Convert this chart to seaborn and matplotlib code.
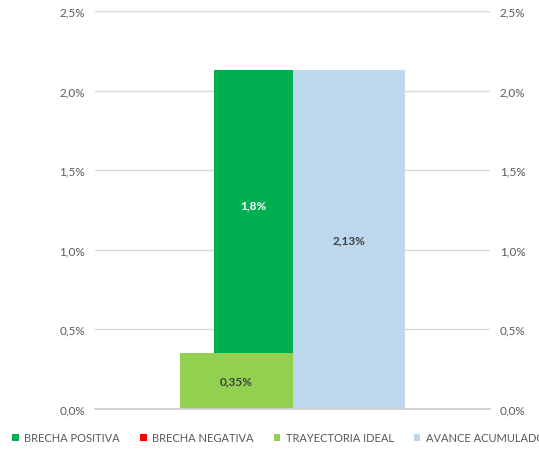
import numpy as np
import matplotlib.pyplot as plt
import seaborn as sns
from matplotlib.patches import Patch
from matplotlib.ticker import FuncFormatter

# ==================== DATA ====================
series = ["BRECHA POSITIVA", "BRECHA NEGATIVA", "TRAYECTORIA IDEAL", "AVANCE ACUMULADO"]
colors = ["#00B050", "#FF0000", "#92D050", "#BDD7EE"]
trayectoria_ideal = 0.35
brecha_positiva = 1.78
avance_acumulado = 2.13
bar_labels = ["1,8%", "0,35%", "2,13%"]
y_ticks = [0.0, 0.5, 1.0, 1.5, 2.0, 2.5]

# ==================== PLOT ====================
sns.set_theme(style="white")
plt.rcParams["font.family"] = ["Lato", "DejaVu Sans"]

fig = plt.figure(figsize=(5.39, 4.52), dpi=100)
ax = fig.add_axes([95 / 539, 42 / 452, 395 / 539, 398 / 452])

# light green (ideal) and blue (avance) side by side, dark green stacked on ideal
w_wide, w_narrow = 0.572, 0.40
ax.bar(-w_wide, trayectoria_ideal, width=w_wide, align="edge", color=colors[2],
       linewidth=0, zorder=2)
ax.bar(-w_narrow, brecha_positiva, width=w_narrow, bottom=trayectoria_ideal,
       align="edge", color=colors[0], linewidth=0, zorder=2)
ax.bar(0, avance_acumulado, width=w_wide, align="edge", color=colors[3],
       linewidth=0, zorder=2)

lab_fs = 8.5
ax.text(-w_narrow / 2, trayectoria_ideal + brecha_positiva / 2 + 0.04, bar_labels[0],
        ha="center", va="center", color="white", fontsize=lab_fs, fontweight="bold")
ax.text(-w_wide / 2, trayectoria_ideal / 2, bar_labels[1],
        ha="center", va="center", color="#404040", fontsize=lab_fs, fontweight="bold")
ax.text(w_wide / 2, avance_acumulado / 2, bar_labels[2],
        ha="center", va="center", color="#404040", fontsize=lab_fs, fontweight="bold")

ax.set_xlim(-1, 1)
ax.set_ylim(0, 2.5)
ax.set_yticks(y_ticks)
fmt = FuncFormatter(lambda v, p: f"{v:.1f}%".replace(".", ","))
ax.yaxis.set_major_formatter(fmt)
ax.set_xticks([])
ax.grid(axis="y", color="#D9D9D9", lw=1, zorder=0)
for s in ["top", "left", "right"]:
    ax.spines[s].set_visible(False)
ax.spines["bottom"].set_color("#D0D0D0")
ax.tick_params(axis="y", length=0, pad=7, labelsize=8.5, labelcolor="#595959")

ax2 = ax.twinx()
ax2.set_ylim(0, 2.5)
ax2.set_yticks(y_ticks)
ax2.yaxis.set_major_formatter(fmt)
for s in ax2.spines.values():
    s.set_visible(False)
ax2.tick_params(axis="y", length=0, pad=7, labelsize=8.5, labelcolor="#595959")

handles = [Patch(facecolor=c, edgecolor="none") for c in colors]
fig.legend(handles, series, loc="center left", bbox_to_anchor=(12 / 539, 1 - 439 / 452),
           ncol=4, frameon=False, handlelength=0.6, handleheight=0.6, handletextpad=0.5,
           columnspacing=1.8, fontsize=8, labelcolor="#595959", borderaxespad=0, borderpad=0)

plt.savefig("out.png", dpi=100)
